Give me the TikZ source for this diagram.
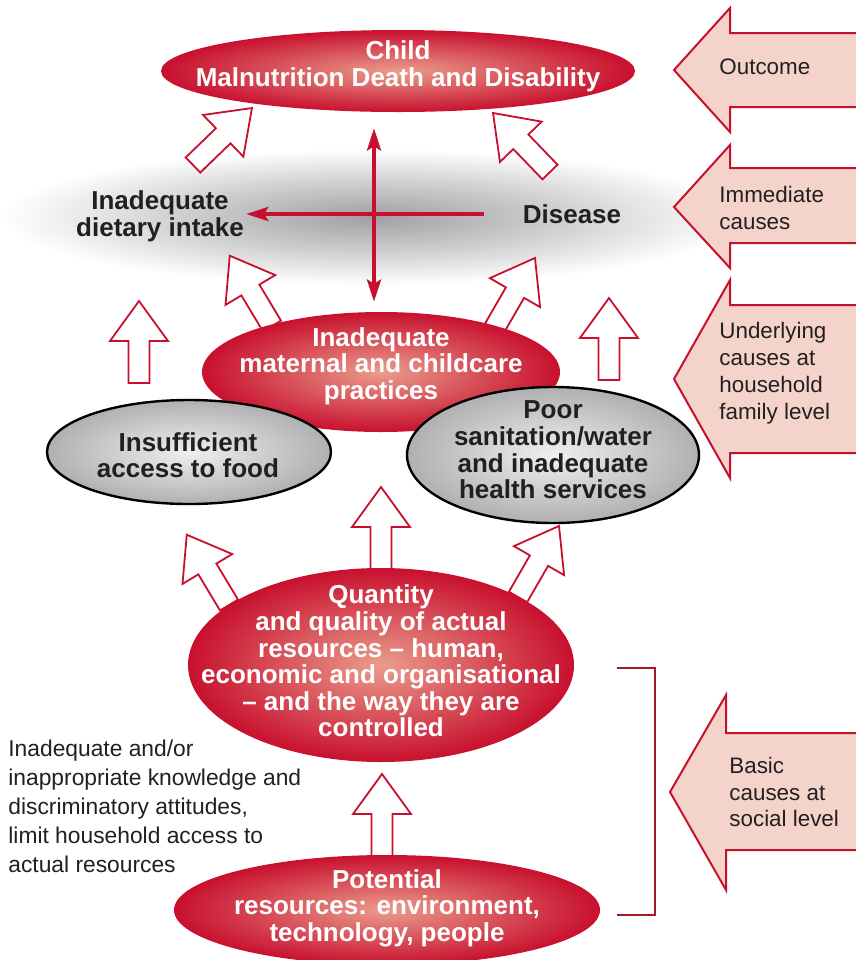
\documentclass[tikz,border=0pt]{standalone}
\usepackage{fontspec}
\setmainfont{Liberation Sans}
\usetikzlibrary{positioning,calc,shapes.geometric,arrows.meta}
\definecolor{causeRed}{RGB}{200,16,46}
\definecolor{causeDark}{RGB}{160,24,44}
\definecolor{causeLight}{RGB}{234,156,140}
\definecolor{greyLight}{RGB}{240,240,240}
\definecolor{greyDark}{RGB}{176,176,176}
\definecolor{hazeCore}{RGB}{160,160,162}
\definecolor{hazeMid}{RGB}{208,208,210}
\definecolor{levelPink}{RGB}{244,211,202}
\definecolor{inkDark}{RGB}{35,31,32}
\pgfdeclareradialshading{redglow}{\pgfpoint{0bp}{0bp}}{color(0bp)=(causeLight); color(25bp)=(causeRed); color(50bp)=(causeRed)}
\pgfdeclareradialshading{greyglow}{\pgfpoint{0bp}{0bp}}{color(0bp)=(greyLight); color(25bp)=(greyDark); color(50bp)=(greyDark)}
\pgfdeclareradialshading{haze}{\pgfpoint{0bp}{0bp}}{color(0bp)=(hazeCore); color(13bp)=(hazeMid); color(25bp)=(white); color(50bp)=(white)}
\tikzset{
  redell/.style={ellipse, shade, shading=redglow, inner sep=0pt},
  greyell/.style={ellipse, shade, shading=greyglow, draw=black, line width=1.2pt, inner sep=0pt},
  boldtxt/.style={font=\fontsize{13}{13.3}\selectfont\bfseries, align=center, inner sep=0pt},
  whitetxt/.style={boldtxt, text=white},
  darktxt/.style={boldtxt, text=inkDark},
  leveltxt/.style={font=\fontsize{11.2}{13.4}\selectfont, align=left, anchor=west, inner sep=0pt, text=inkDark},
  levelarrow/.style={draw=causeRed, fill=levelPink, line width=1pt},
  redline/.style={draw=causeRed, line width=2pt},
  hollow/.pic={
    \draw[draw=causeRed, fill=white, line width=0.9pt]
      (0,-10.5) -- (42,-10.5) -- (42,-29) -- (82,0) -- (42,29) -- (42,10.5) -- (0,10.5) -- cycle;
  }
}
\begin{document}
\begin{tikzpicture}[x=0.5pt,y=-0.5pt]
        \clip (0,0) rectangle (856,960);
        % Grey haze behind the immediate causes
        \shade[shading=haze] (372,217) ellipse (372 and 68);
        % Hollow arrows between the levels
        \pic[rotate=44] at (193,165) {hollow};
        \pic[rotate=134] at (550,172) {hollow};
        \pic[rotate=121] at (272,326) {hollow};
        \pic[rotate=60] at (494,329) {hollow};
        \pic[rotate=90] at (139,383) {hollow};
        \pic[rotate=90] at (609,380) {hollow};
        \pic[rotate=90] at (381,569) {hollow};
        \pic[rotate=121] at (229,605) {hollow};
        \pic[rotate=60] at (518,597) {hollow};
        \pic[rotate=90] at (382,856) {hollow};
        % Ellipses, one per cause
        \node[redell, minimum width=237pt, minimum height=41pt] (malnut) at (398,71) {};
        \node[redell, minimum width=179pt, minimum height=60pt] (maternal) at (381,372) {};
        \node[greyell, minimum width=142pt, minimum height=52pt] (food) at (189,452) {};
        \node[greyell, minimum width=146pt, minimum height=68pt] (poor) at (553,455) {};
        \node[redell, minimum width=193pt, minimum height=97pt] (quantity) at (381,665) {};
        \node[redell, minimum width=213pt, minimum height=55pt] (potential) at (387,910) {};
        % Texts of the causes
        \node[whitetxt] (malnutText) at (398,66) {Child\\Malnutrition Death and Disability};
        \node[darktxt] (dietary) at (160,216) {Inadequate\\dietary intake};
        \node[darktxt] (disease) at (572,214) {Disease};
        \node[whitetxt] (maternalText) at (381,366) {Inadequate\\maternal and childcare\\practices};
        \node[darktxt] (foodText) at (188,455) {Insufficient\\access to food};
        \node[darktxt] (poorText) at (553,450) {Poor\\sanitation/water\\and inadequate\\health services};
        \node[whitetxt] (quantityText) at (381,661) {Quantity\\and quality of actual\\resources -- human,\\economic and organisational\\-- and the way they are\\controlled};
        \node[whitetxt] (potentialText) at (387,908) {Potential\\resources: environment,\\technology, people};
        % Red arrows between disease, intake and the outcome
        \coordinate (hub) at (374,215);
        \draw[redline, -{Stealth[length=11pt,width=7pt,inset=2pt]}, shorten <=19pt, shorten >=1pt]
          (disease.west) -- (disease.west -| dietary.east);
        \draw[redline, {Stealth[length=11pt,width=7pt,inset=2pt]}-{Stealth[length=11pt,width=7pt,inset=2pt]}, shorten <=8pt, shorten >=5pt]
          (hub |- malnut.south) -- (hub |- maternal.north);
        % Level arrows on the right
        \draw[levelarrow] (870,33) -- (730,33) -- (730,8) -- (674,70) -- (730,132) -- (730,107) -- (870,107) -- cycle;
        \draw[levelarrow] (870,168) -- (730,168) -- (730,145) -- (674,207) -- (730,268) -- (730,243) -- (870,243) -- cycle;
        \draw[levelarrow] (870,305) -- (730,305) -- (730,280) -- (674,379) -- (730,478) -- (730,453) -- (870,453) -- cycle;
        \draw[levelarrow] (870,733) -- (726,733) -- (726,695) -- (670,792) -- (726,890) -- (726,850) -- (870,850) -- cycle;
        \node[leveltxt] (outcomeLbl) at (719,67) {Outcome};
        \node[leveltxt] (immediateLbl) at (719,208) {Immediate\\causes};
        \node[leveltxt] (underlyingLbl) at (719,373) {Underlying\\causes at\\household\\family level};
        \node[leveltxt] (basicLbl) at (729,792) {Basic\\causes at\\social level};
        % Bracket round the basic causes
        \draw[causeDark, line width=1pt] (617,668) -- (655,668) -- (655,915) -- (617,915);
        % Note on the left
        \node[leveltxt, font=\fontsize{11.4}{14.5}\selectfont] (note) at (8,806)
          {Inadequate and/or\\inappropriate knowledge and\\discriminatory attitudes,\\limit household access to\\actual resources};
\end{tikzpicture}
\end{document}
